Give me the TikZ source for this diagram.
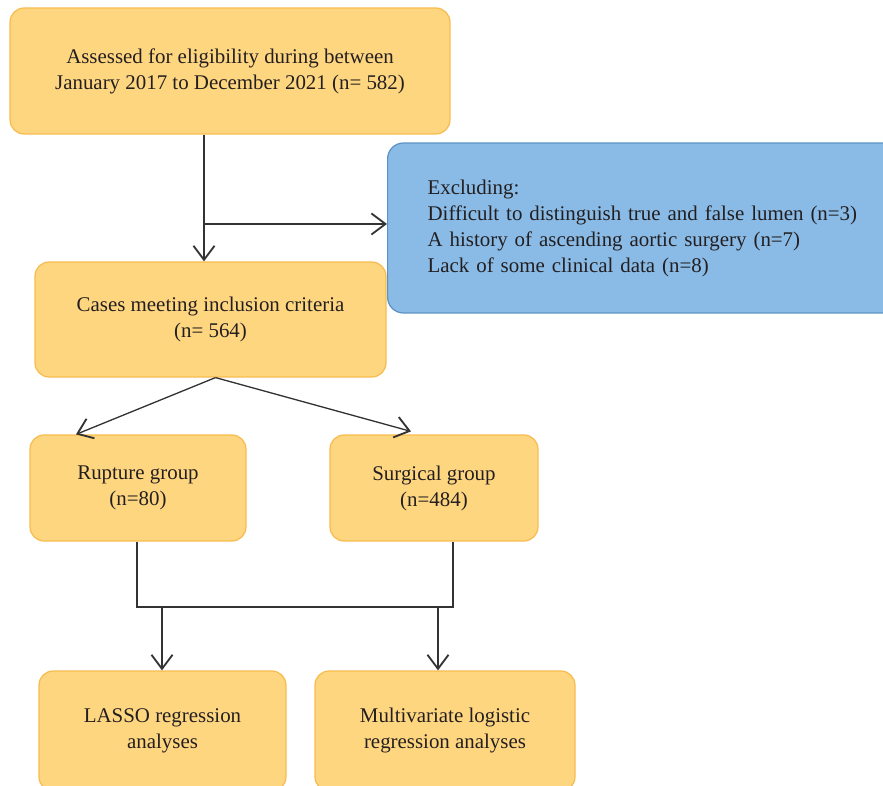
\documentclass[tikz,border=0pt]{standalone}
\usepackage{xcolor}
\usepackage{fontspec}
\setmainfont{Liberation Serif}
\usepackage{tikz}
\usetikzlibrary{positioning,arrows.meta}
\definecolor{BoxOrange}{HTML}{FFD680}
\definecolor{LineOrange}{HTML}{F6BC4E}
\definecolor{BoxBlue}{HTML}{8ABBE6}
\definecolor{LineBlue}{HTML}{5C93C6}
\definecolor{ArrowGray}{HTML}{333333}
\definecolor{InkDark}{HTML}{231F20}
\tikzset{
  stepbox/.style={draw=LineOrange,fill=BoxOrange,rounded corners=8pt,
    line width=0.7pt,align=center,inner sep=2pt,
    font=\fontsize{11.9}{14.8}\selectfont\color{InkDark}},
  exbox/.style={draw=LineBlue,fill=BoxBlue,rounded corners=9pt,
    line width=0.7pt,align=left,inner xsep=0.8cm,text width=9.6cm,
    minimum height=3.4cm,
    font=\fontsize{11.9}{14.8}\selectfont\color{InkDark}},
  edge/.style={draw=ArrowGray,line width=0.75pt,
    -{Straight Barb[length=8pt,width=12pt,line width=1.05pt]}},
  plain/.style={draw=ArrowGray,line width=0.75pt},
}
\begin{document}
\begin{tikzpicture}[x=0.02cm,y=-0.02cm]
  \useasboundingbox (0,0) rectangle (883,786);
  \clip (0,0) rectangle (883,786);
  % boxes
  \node[stepbox,minimum width=8.8cm,minimum height=2.52cm] (assess) at (230,71)
    {Assessed for eligibility during between\\January 2017 to December 2021 (n= 582)};
  \node[exbox,anchor=west] (excl) at (387,228)
    {Excluding:\\Difficult to distinguish true and false lumen (n=3)\\
     A history of ascending aortic surgery (n=7)\\Lack of some clinical data (n=8)};
  \node[stepbox,minimum width=7.02cm,minimum height=2.3cm] (incl) at (210.5,319.5)
    {Cases meeting inclusion criteria\\(n= 564)};
  \node[stepbox,minimum width=4.32cm,minimum height=2.12cm] (rupt) at (138,488)
    {Rupture group\\(n=80)};
  \node[stepbox,minimum width=4.16cm,minimum height=2.12cm] (surg) at (434,488)
    {Surgical group\\(n=484)};
  \node[stepbox,minimum width=4.94cm,minimum height=2.4cm] (lasso) at (162.5,731)
    {LASSO regression\\analyses};
  \node[stepbox,minimum width=5.2cm,minimum height=2.4cm] (multi) at (445,731)
    {Multivariate logistic\\regression analyses};
  % connectors
  \coordinate (split) at (204,224);
  \draw[edge] (assess.south -| split) -- (incl.north -| split);
  \draw[edge] (split) -- (excl.west |- split);
  \draw[edge] ([xshift=0.1cm]incl.south) -- ([xshift=-1.24cm]rupt.north);
  \draw[edge] ([xshift=0.1cm]incl.south) -- ([xshift=-0.46cm,yshift=0.06cm]surg.north);
  \coordinate (joinL) at (137,607);
  \coordinate (joinR) at (453,607);
  \draw[plain] (rupt.south -| joinL) -- (joinL) -- (joinR) -- (surg.south -| joinR);
  \coordinate (dropL) at (162,607);
  \coordinate (dropR) at (438,607);
  \draw[edge] (dropL) -- (lasso.north -| dropL);
  \draw[edge] (dropR) -- (multi.north -| dropR);
\end{tikzpicture}
\end{document}
